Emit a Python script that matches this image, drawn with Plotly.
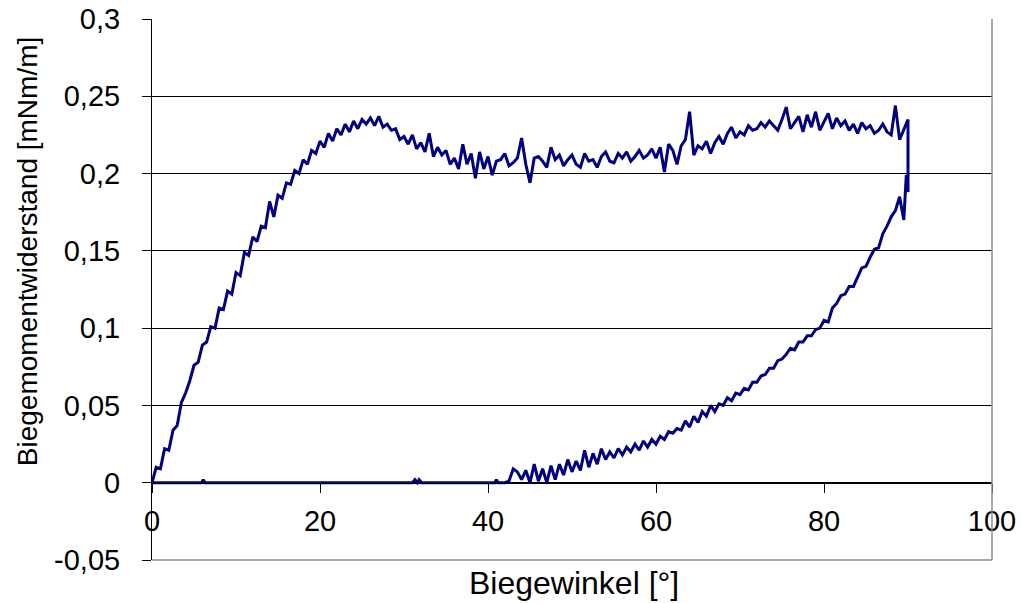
import plotly.graph_objects as go

# Loading branch (bending angle in degrees, moment in mNm/m)
angle_load = [
    0.0, 0.5, 1.0, 1.5, 2.0, 2.5, 3.0, 3.5, 4.0, 4.5,
    5.0, 5.5, 6.0, 6.5, 7.0, 7.5, 8.0, 8.5, 9.0, 9.5,
    10.0, 10.5, 11.0, 11.5, 12.0, 12.5, 13.0, 13.5, 14.0, 14.5,
    15.0, 15.5, 16.0, 16.5, 17.0, 17.5, 18.0, 18.5, 19.0, 19.5,
    20.0, 20.5, 21.0, 21.5, 22.0, 22.5, 23.0, 23.5, 24.0, 24.5,
    25.0, 25.5, 26.0, 26.5, 27.0, 27.5, 28.0, 28.5, 29.0, 29.5,
    30.0, 30.5, 31.0, 31.5, 32.0, 32.5, 33.0, 33.5, 34.0, 34.5,
    35.0, 35.5, 36.0, 36.5, 37.0, 37.5, 38.0, 38.5, 39.0, 39.5,
    40.0, 40.5, 41.0, 41.5, 42.0, 42.5, 43.0, 43.5, 44.0, 44.5,
    45.0, 45.5, 46.0, 46.5, 47.0, 47.5, 48.0, 48.5, 49.0, 49.5,
    50.0, 50.5, 51.0, 51.5, 52.0, 52.5, 53.0, 53.5, 54.0, 54.5,
    55.0, 55.5, 56.0, 56.5, 57.0, 57.5, 58.0, 58.5, 59.0, 59.5,
    60.0, 60.5, 61.0, 61.5, 62.0, 62.5, 63.0, 63.5, 64.0, 64.5,
    65.0, 65.5, 66.0, 66.5, 67.0, 67.5, 68.0, 68.5, 69.0, 69.5,
    70.0, 70.5, 71.0, 71.5, 72.0, 72.5, 73.0, 73.5, 74.0, 74.5,
    75.0, 75.5, 76.0, 76.5, 77.0, 77.5, 78.0, 78.5, 79.0, 79.5,
    80.0, 80.5, 81.0, 81.5, 82.0, 82.5, 83.0, 83.5, 84.0, 84.5,
    85.0, 85.5, 86.0, 86.5, 87.0, 87.5, 88.0, 88.5, 89.0, 89.5,
    90.0,
]
moment_load = [
    0.000, 0.010, 0.009, 0.022, 0.021, 0.034, 0.037, 0.052, 0.058, 0.066,
    0.076, 0.078, 0.089, 0.091, 0.101, 0.100, 0.113, 0.112, 0.124, 0.122,
    0.136, 0.134, 0.149, 0.147, 0.159, 0.156, 0.166, 0.165, 0.182, 0.172,
    0.186, 0.184, 0.194, 0.193, 0.202, 0.200, 0.209, 0.206, 0.215, 0.213,
    0.221, 0.217, 0.226, 0.221, 0.229, 0.225, 0.232, 0.227, 0.234, 0.229,
    0.235, 0.232, 0.236, 0.231, 0.237, 0.230, 0.232, 0.228, 0.229, 0.222,
    0.224, 0.219, 0.225, 0.216, 0.220, 0.214, 0.226, 0.211, 0.217, 0.212,
    0.215, 0.206, 0.210, 0.203, 0.219, 0.206, 0.213, 0.197, 0.214, 0.203,
    0.211, 0.199, 0.208, 0.209, 0.213, 0.205, 0.207, 0.210, 0.223, 0.206,
    0.194, 0.210, 0.211, 0.208, 0.204, 0.217, 0.209, 0.212, 0.205, 0.209,
    0.212, 0.206, 0.204, 0.213, 0.208, 0.209, 0.204, 0.211, 0.214, 0.208,
    0.207, 0.213, 0.210, 0.214, 0.208, 0.211, 0.215, 0.210, 0.212, 0.216,
    0.210, 0.217, 0.201, 0.219, 0.215, 0.206, 0.218, 0.222, 0.240, 0.212,
    0.218, 0.216, 0.221, 0.213, 0.220, 0.224, 0.219, 0.226, 0.230, 0.223,
    0.227, 0.225, 0.231, 0.228, 0.229, 0.233, 0.230, 0.234, 0.231, 0.228,
    0.235, 0.243, 0.229, 0.233, 0.237, 0.227, 0.238, 0.230, 0.240, 0.228,
    0.233, 0.239, 0.229, 0.236, 0.231, 0.234, 0.228, 0.232, 0.226, 0.233,
    0.229, 0.231, 0.226, 0.228, 0.232, 0.227, 0.225, 0.244, 0.222, 0.229,
    0.235,
]

# Unloading branch
angle_unload = [
    90.0, 89.8, 89.5,
    89.0, 88.5, 88.0, 87.5, 87.0, 86.5, 86.0, 85.5, 85.0, 84.5,
    84.0, 83.5, 83.0, 82.5, 82.0, 81.5, 81.0, 80.5, 80.0, 79.5,
    79.0, 78.5, 78.0, 77.5, 77.0, 76.5, 76.0, 75.5, 75.0, 74.5,
    74.0, 73.5, 73.0, 72.5, 72.0, 71.5, 71.0, 70.5, 70.0, 69.5,
    69.0, 68.5, 68.0, 67.5, 67.0, 66.5, 66.0, 65.5, 65.0, 64.5,
    64.0, 63.5, 63.0, 62.5, 62.0, 61.5, 61.0, 60.5, 60.0, 59.5,
    59.0, 58.5, 58.0, 57.5, 57.0, 56.5, 56.0, 55.5, 55.0, 54.5,
    54.0, 53.5, 53.0, 52.5, 52.0, 51.5, 51.0, 50.5, 50.0, 49.5,
    49.0, 48.5, 48.0, 47.5, 47.0, 46.5, 46.0, 45.5, 45.0, 44.5,
    44.0, 43.5, 43.0, 42.5, 42.0,
    41.2, 41.0, 40.8,
    32.1, 31.8, 31.6, 31.3, 31.0,
    6.3, 6.1, 5.9, 0.0,
]
moment_unload = [
    0.188, 0.199, 0.170,
    0.185, 0.176, 0.172, 0.166, 0.161, 0.152, 0.151, 0.146, 0.140, 0.139,
    0.133, 0.127, 0.127, 0.122, 0.121, 0.116, 0.113, 0.104, 0.105, 0.100,
    0.099, 0.095, 0.095, 0.091, 0.091, 0.086, 0.087, 0.083, 0.080, 0.079,
    0.074, 0.074, 0.070, 0.069, 0.065, 0.065, 0.060, 0.061, 0.057, 0.058,
    0.053, 0.055, 0.050, 0.051, 0.046, 0.050, 0.043, 0.046, 0.039, 0.043,
    0.036, 0.040, 0.034, 0.035, 0.032, 0.033, 0.028, 0.030, 0.025, 0.028,
    0.023, 0.027, 0.021, 0.025, 0.020, 0.023, 0.018, 0.022, 0.016, 0.020,
    0.015, 0.022, 0.012, 0.019, 0.010, 0.021, 0.008, 0.014, 0.007, 0.015,
    0.005, 0.012, 0.002, 0.011, 0.000, 0.009, 0.001, 0.012, 0.000, 0.008,
    0.002, 0.007, 0.009, 0.001, 0.000,
    0.000, 0.002, 0.000,
    0.000, 0.002, 0.000, 0.002, 0.000,
    0.000, 0.002, 0.000, 0.000,
]

x_ticks = [0, 20, 40, 60, 80, 100]
x_tick_labels = ["0", "20", "40", "60", "80", "100"]
y_ticks = [-0.05, 0, 0.05, 0.1, 0.15, 0.2, 0.25, 0.3]
y_tick_labels = ["-0,05", "0", "0,05", "0,1", "0,15", "0,2", "0,25", "0,3"]

x_title = "Biegewinkel [°]"
y_title = "Biegemomentwiderstand [mNm/m]"

FONT = "Liberation Sans, Arial, sans-serif"
NAVY = "#000080"

fig = go.Figure()
fig.add_trace(go.Scatter(
    x=angle_load + angle_unload,
    y=moment_load + moment_unload,
    mode="lines",
    line=dict(color=NAVY, width=3),
    showlegend=False,
    hoverinfo="x+y",
))

y_min, y_max = -0.05, 0.3
zero_pos = (0 - y_min) / (y_max - y_min)

fig.update_layout(
    width=1025,
    height=603,
    margin=dict(l=152, r=33, t=19, b=43, pad=0),
    paper_bgcolor="white",
    plot_bgcolor="white",
    font=dict(family=FONT, size=29, color="black"),
    xaxis=dict(
        range=[0, 100],
        tickvals=x_ticks,
        ticktext=x_tick_labels,
        anchor="free",
        position=zero_pos,
        showline=True,
        linecolor="black",
        linewidth=1,
        ticks="outside",
        ticklen=9,
        tickwidth=1,
        tickcolor="black",
        ticklabelstandoff=3,
        showgrid=False,
        zeroline=False,
        automargin=False,
        tickfont=dict(family=FONT, size=29, color="black"),
    ),
    yaxis=dict(
        range=[y_min, y_max],
        tickvals=y_ticks,
        ticktext=y_tick_labels,
        showline=True,
        linecolor="black",
        linewidth=1,
        ticks="outside",
        ticklen=9,
        tickwidth=1,
        tickcolor="black",
        ticklabelstandoff=16,
        showgrid=True,
        gridcolor="black",
        gridwidth=1,
        zeroline=False,
        automargin=False,
        tickfont=dict(family=FONT, size=29, color="black"),
    ),
    shapes=[
        dict(type="line", xref="paper", yref="paper", x0=1, x1=1, y0=0, y1=1,
             line=dict(color="#8c8c8c", width=1.5), layer="above"),
        dict(type="line", xref="paper", yref="paper", x0=0, x1=1, y0=0, y1=0,
             line=dict(color="#8c8c8c", width=1.5), layer="above"),
    ],
    annotations=[
        dict(text=x_title, xref="paper", yref="paper", x=0.5018, y=-0.0425,
             xanchor="center", yanchor="middle", showarrow=False,
             font=dict(family=FONT, size=32, color="black")),
        dict(text=y_title, xref="paper", yref="paper", x=-0.1488, y=0.569,
             xanchor="center", yanchor="middle", showarrow=False, textangle=-90,
             font=dict(family=FONT, size=28, color="black")),
    ],
)

fig.write_html("out.html")
